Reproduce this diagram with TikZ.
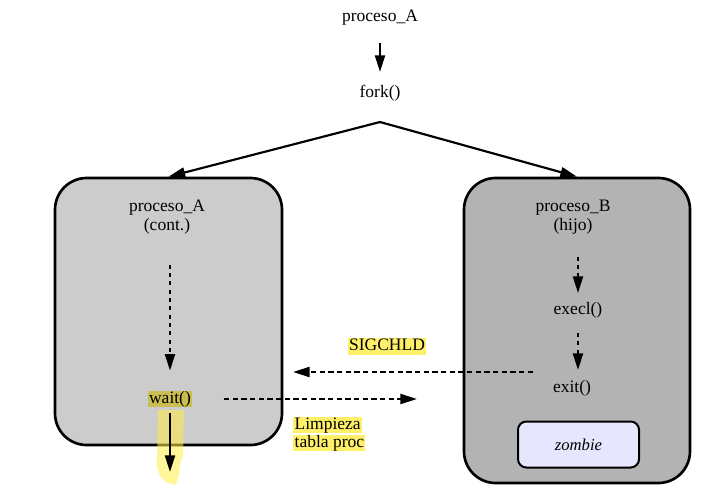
\documentclass[tikz,border=0pt]{standalone}
\usepackage{tikz}
\usepackage{xcolor}
\usepackage{fontspec}
\setmainfont{Liberation Serif}
\usetikzlibrary{arrows.meta}
\definecolor{boxa}{RGB}{204,204,204}
\definecolor{boxb}{RGB}{179,179,179}
\definecolor{zomb}{RGB}{230,230,255}
\definecolor{hl}{RGB}{255,240,105}
\definecolor{hldark}{RGB}{203,190,80}
\definecolor{marker}{RGB}{255,236,70}

\begin{document}
\begin{tikzpicture}[x=0.6pt, y=-0.6pt, font=\fontsize{10.5}{11.6}\selectfont,
    lbl/.style={inner sep=0pt, align=center},
    hilite/.style={fill=hl, inner xsep=0.8pt, inner ysep=0pt, text height=7.5pt, text depth=2.5pt},
    proc/.style={draw, line width=1.6pt, rounded corners=19pt},
    arr/.style={-{Triangle[length=10pt,width=6pt]}, line width=1.3pt},
    dotarr/.style={arr, dash pattern=on 2.4pt off 2.6pt},
    dasharr/.style={arr, dash pattern=on 3.2pt off 2pt}]
    \useasboundingbox (0,0) rectangle (726,493);

    \path (380,18) node [lbl] (pa) {proceso\_A};
    \path (380,93) node [lbl] (fk) {fork()};
    \draw [arr, shorten <=10pt, shorten >=7.6pt] (pa) -- (fk);
    \coordinate (fkp) at (380,122);

    \path (168.5,311.5) node [proc, fill=boxa, minimum width=136.2pt, minimum height=160.2pt] (pra) {};
    \path (577,330.5) node [proc, fill=boxb, minimum width=135.6pt, minimum height=183pt] (prb) {};
    \draw [arr] (fkp) -- (pra.north);
    \draw [arr] (fkp) -- (prb.north);

    \path (167,217) node [lbl] (pac) {proceso\_A\\(cont.)};
    \path (170,399) node [hilite, fill=hldark] (wt) {wait()};
    \draw [dotarr, shorten <=18.1pt, shorten >=11.8pt] (pac.south -| wt) -- (wt);
    \fill [marker, opacity=0.55] (158,410) -- (184,410) -- (183,457)
	.. controls (178,463) and (181,474) .. (176,484)
	.. controls (166,485) and (159,478) .. (157,466) -- cycle;
    \coordinate (wend) at (170,472);
    \draw [arr, shorten <=3.4pt] (wt) -- (wend);

    \path (573,217) node [lbl] (pbh) {proceso\_B\\(hijo)};
    \path (578,310) node [lbl] (ec) {execl()};
    \path (572,388) node [lbl] (ex) {exit()};
    \draw [dotarr, shorten <=13.3pt, shorten >=5.2pt] (pbh.south -| ec) -- (ec);
    \draw [dotarr, shorten <=8.8pt, shorten >=10.8pt] (ec) -- (ec |- ex);
    \path (578.5,444.5) node [draw, fill=zomb, line width=1.2pt, rounded corners=5pt,
	minimum width=72.6pt, minimum height=27.6pt, font=\itshape] (zb) {zombie};

    \path (387,346.5) node [hilite] (sig) {SIGCHLD};
    \coordinate (sgs) at (533,372);
    \draw [dasharr, shorten >=5.8pt] (sgs) -- (sgs -| pra.east);
    \coordinate (cle) at (417,399);
    \draw [dasharr, shorten <=18.8pt] (wt.east) -- (cle);
    \path (293,425) node [hilite, anchor=west] (lp1) {Limpieza};
    \path (293,443) node [hilite, anchor=west] (lp2) {tabla proc};
\end{tikzpicture}
\end{document}
